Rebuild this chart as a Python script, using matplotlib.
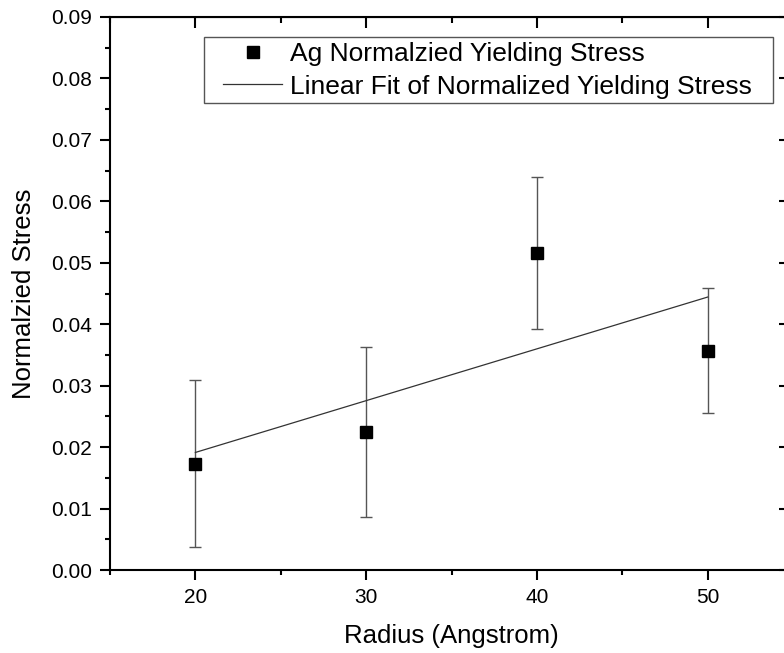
import numpy as np
import matplotlib
matplotlib.use("Agg")
import matplotlib.pyplot as plt
from matplotlib.patches import Rectangle

plt.rcParams['font.family'] = ['Liberation Sans', 'DejaVu Sans']

radius = [20, 30, 40, 50]
stress = [0.0173, 0.0225, 0.0516, 0.0357]
stress_err = [0.0136, 0.0138, 0.0124, 0.0102]

fig = plt.figure(figsize=(7.84, 6.53), dpi=100)
ax = fig.add_axes([110/784, 1-570/653, (793-110)/784, (570-17)/653])

ax.errorbar(radius, stress, yerr=stress_err, fmt='none', ecolor='#555555',
            elinewidth=1.0, capsize=4.5, capthick=1.0, zorder=2)
ax.plot(radius, stress, 's', color='black', markersize=8.5, zorder=4,
        label='Ag Normalzied Yielding Stress')

coef = np.polyfit(radius, stress, 1)
xfit = np.array([radius[0], radius[-1]])
ax.plot(xfit, np.polyval(coef, xfit), '-', color='#333333', lw=0.9, zorder=3,
        label='Linear Fit of Normalized Yielding Stress')

ax.set_xlim(15, 55)
ax.set_ylim(0, 0.09)
ax.set_xticks([20, 30, 40, 50])
ax.set_xticks([15, 25, 35, 45, 55], minor=True)
ax.set_yticks(np.arange(0, 0.0901, 0.01))
ax.set_yticks(np.arange(0.005, 0.09, 0.01), minor=True)
ax.yaxis.set_major_formatter(matplotlib.ticker.FormatStrFormatter('%.2f'))

for s in ax.spines.values():
    s.set_linewidth(1.5)

ax.tick_params(axis='both', which='major', direction='out', length=7.5, width=1.5,
               labelsize=15, pad=5.5)
ax.tick_params(axis='both', which='minor', direction='out', length=3.8, width=1.5)

# inward ticks on top and right
secx = ax.secondary_xaxis('top')
secx.set_xticks([20, 30, 40, 50])
secx.set_xticks([15, 25, 35, 45, 55], minor=True)
secx.tick_params(which='major', direction='in', length=8, width=1.5, labeltop=False)
secx.tick_params(which='minor', direction='in', length=4, width=1.5)
secy = ax.secondary_yaxis('right')
secy.set_yticks(np.arange(0, 0.0901, 0.01))
secy.set_yticks(np.arange(0.005, 0.09, 0.01), minor=True)
secy.tick_params(which='major', direction='in', length=10, width=1.5, labelright=False)
secy.tick_params(which='minor', direction='in', length=5, width=1.5)

ax.set_xlabel('Radius (Angstrom)', fontsize=18.5, labelpad=12)
ax.set_ylabel('Normalzied Stress', fontsize=18.5, labelpad=11)

# legend frame drawn separately so its padding matches the reference
ax.add_patch(Rectangle(((204-110)/683, (570-103)/553), (773-204)/683, (103-37)/553,
                       transform=ax.transAxes, facecolor='white', edgecolor='#555555',
                       lw=1.0, zorder=5))
leg = ax.legend(loc='upper left', bbox_to_anchor=((223-110)/683, 1-25/553), fontsize=19,
                frameon=False, borderpad=0, handletextpad=0.3, handlelength=2.25,
                labelspacing=0.33, borderaxespad=0)
leg.set_zorder(6)

fig.savefig('out.png', dpi=100)
